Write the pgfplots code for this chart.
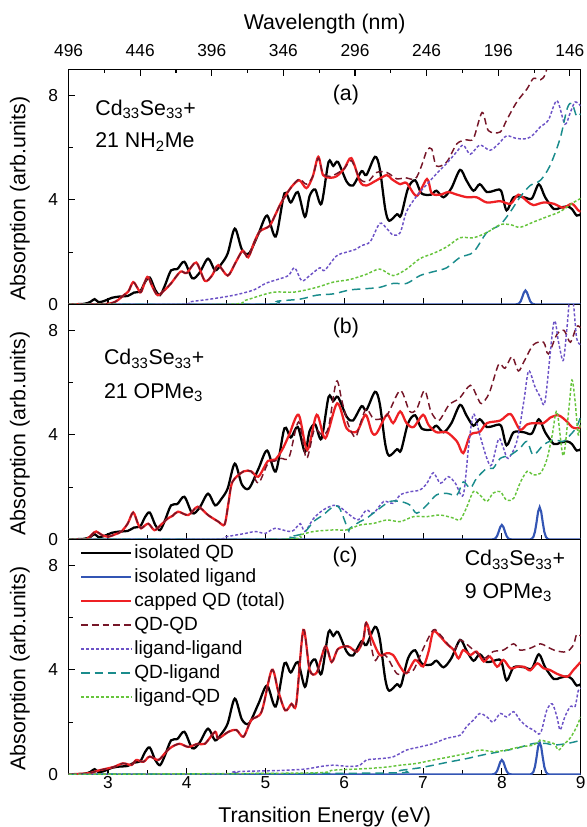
\documentclass[border=0pt]{standalone}
\usepackage{fontspec}
\setmainfont{Liberation Sans}
\usepackage{pgfplots}
\usepackage{pgfplotstable}
\pgfplotsset{compat=1.18}

\definecolor{cLig}{RGB}{51,85,180}
\definecolor{cCap}{RGB}{238,32,36}
\definecolor{cQQ}{RGB}{118,22,40}
\definecolor{cLL}{RGB}{108,82,198}
\definecolor{cQL}{RGB}{26,140,140}
\definecolor{cLQ}{RGB}{102,196,60}

% isolated QD spectrum (same in all panels)
\pgfplotstableread{
E v
2.5 0
2.7 0.02
2.78 0.1
2.83 0.2
2.88 0.08
2.92 0.1
2.97 0.15
3.05 0.25
3.15 0.3
3.25 0.32
3.33 0.45
3.41 0.5
3.47 0.85
3.53 1.03
3.6 0.55
3.66 0.35
3.72 0.7
3.8 1.3
3.88 1.35
3.97 1.63
4.07 1.0
4.16 1.2
4.27 1.75
4.36 1.3
4.44 1.55
4.52 1.95
4.61 2.9
4.7 2.1
4.79 1.95
4.91 2.7
5.02 3.4
5.13 2.6
5.24 4.25
5.32 3.9
5.41 4.3
5.5 3.35
5.56 4.15
5.63 4.4
5.71 3.85
5.8 5.45
5.86 5.3
5.92 5.45
6.03 4.7
6.11 4.55
6.22 5.1
6.28 4.95
6.39 5.65
6.45 5.2
6.52 3.65
6.57 3.2
6.67 3.45
6.72 3.4
6.81 4.45
6.9 4.75
6.98 4.25
7.1 4.2
7.17 4.35
7.26 4.1
7.36 4.45
7.47 5.15
7.55 4.75
7.64 4.35
7.72 4.6
7.81 4.3
7.9 4.35
7.99 4.35
8.06 3.6
8.15 4.1
8.28 4.1
8.38 4.05
8.47 4.6
8.55 4.1
8.66 3.65
8.74 3.7
8.83 3.75
8.89 3.65
8.95 3.4
9.0 3.45
}\isoQD

% isolated OPMe3 ligand
\pgfplotstableread{
E v
2.5 0
7.88 0
7.9 0.01
7.92 0.04
7.94 0.13
7.96 0.29
7.98 0.47
8.0 0.55
8.02 0.47
8.04 0.29
8.06 0.13
8.08 0.04
8.1 0.01
8.12 0
8.36 0
8.38 0.02
8.4 0.09
8.42 0.28
8.44 0.64
8.46 1.05
8.48 1.23
8.5 1.05
8.52 0.64
8.54 0.28
8.56 0.09
8.58 0.02
8.6 0
9.0 0
}\ligOP

\pgfplotsset{
  panel/.style={
    width=384pt, height=176.25pt, scale only axis,
    xmin=2.5, xmax=9, ymin=0, ymax=9,
    xtick={3,...,9}, minor x tick num=1,
    ytick={0,4,8}, minor ytick={2,6},
    xtick pos=bottom, ytick pos=left,
    tick align=inside,
    major tick length=5pt, minor tick length=3pt,
    tick style={line width=0.8pt, black},
    axis line style={line width=0.8pt},
    /pgf/number format/assume math mode=true,
    tick label style={font=\fontsize{13}{15}\selectfont},
    yticklabel style={xshift=-4.4pt},
    ylabel={Absorption (arb.units)},
    every axis y label/.style={at={(axis description cs:-0.095,0.45)},
      rotate=90, anchor=center, font=\fontsize{16}{19}\selectfont},
  },
  qd/.style={black, line width=1.7pt, smooth},
  lig/.style={cLig, line width=1.6pt},
  cap/.style={cCap, line width=1.7pt, smooth},
  qq/.style={cQQ, line width=1.1pt, dash pattern=on 5pt off 3pt, smooth},
  ll/.style={cLL, line width=1.1pt, dash pattern=on 2.2pt off 1.5pt, smooth},
  ql/.style={cQL, line width=1.1pt, dash pattern=on 6.25pt off 3.75pt, smooth},
  lq/.style={cLQ, line width=1.1pt, dash pattern=on 2.2pt off 1.5pt, smooth},
}

\begin{document}
\begin{tikzpicture}

% ---------- (a) ----------
\begin{axis}[panel, at={(0,352.5pt)}, anchor=south west, xticklabels={}]
\addplot[qd] table[x=E,y=v]{\isoQD};
\addplot[lig] coordinates {(2.5,0) (8.18,0) (8.2,0.01) (8.22,0.04) (8.24,0.12) (8.26,0.28)
 (8.28,0.45) (8.3,0.53) (8.32,0.45) (8.34,0.28) (8.36,0.12) (8.38,0.04) (8.4,0.01) (8.42,0) (9,0)};
\addplot[cap] coordinates {
 (2.5,0) (2.9,0) (3.05,0.05) (3.12,0.15) (3.2,0.35) (3.26,0.5) (3.32,0.85) (3.38,0.6)
 (3.42,0.47) (3.5,1.05) (3.56,0.7) (3.63,0.35) (3.72,0.55) (3.8,0.8) (3.92,1.25) (4.0,1.2)
 (4.12,1.6) (4.23,0.9) (4.32,1.1) (4.4,1.5) (4.52,1.1) (4.62,1.6) (4.71,2.05) (4.78,1.8)
 (4.86,2.4) (4.93,2.8) (5.05,3.0) (5.12,3.4) (5.2,3.9) (5.33,4.5) (5.43,4.75) (5.52,4.45)
 (5.6,4.9) (5.67,5.65) (5.73,4.95) (5.82,4.85) (5.9,4.9) (6.0,5.2) (6.09,5.6) (6.2,4.7)
 (6.28,4.55) (6.41,4.75) (6.54,4.95) (6.6,4.8) (6.71,4.6) (6.79,4.65) (6.92,4.15) (7.05,4.8)
 (7.11,4.25) (7.22,4.2) (7.32,4.3) (7.43,4.2) (7.56,4.1) (7.68,4.1) (7.81,3.9) (7.98,3.95)
 (8.11,3.85) (8.21,4.2) (8.32,3.95) (8.4,3.8) (8.53,3.9) (8.66,3.85) (8.78,3.7) (8.89,3.85)
 (8.97,3.6) (9.0,3.55)};
\addplot[qq] coordinates {
 (2.5,0) (2.9,0) (3.05,0.05) (3.12,0.15) (3.2,0.35) (3.26,0.5) (3.32,0.85) (3.38,0.6)
 (3.42,0.47) (3.5,1.05) (3.56,0.7) (3.63,0.35) (3.72,0.55) (3.8,0.8) (3.92,1.25) (4.0,1.2)
 (4.12,1.6) (4.23,0.9) (4.32,1.1) (4.4,1.5) (4.52,1.1) (4.62,1.6) (4.71,2.05) (4.78,1.8)
 (4.86,2.4) (4.93,2.8) (5.05,3.0) (5.12,3.4) (5.2,3.9) (5.33,4.5) (5.43,4.8) (5.52,4.6)
 (5.6,4.9) (5.67,5.6) (5.73,5.0) (5.82,4.9) (5.9,5.0) (6.0,5.2) (6.09,5.5) (6.2,4.8)
 (6.3,4.7) (6.41,5.05) (6.54,5.05) (6.67,4.8) (6.77,4.85) (6.9,4.8) (6.98,5.3) (7.05,5.9)
 (7.11,5.95) (7.17,5.3) (7.3,5.45) (7.43,6.15) (7.55,6.3) (7.64,6.35) (7.75,7.35) (7.83,6.65)
 (7.98,6.6) (8.06,7.05) (8.19,7.75) (8.32,8.25) (8.4,8.65) (8.49,8.6) (8.55,8.8) (8.62,9.5)
 (8.8,10) (9.0,10)};
\addplot[ll] coordinates {
 (2.5,0) (3.9,0) (4.05,0.1) (4.3,0.2) (4.6,0.35) (4.85,0.55) (5.0,0.8) (5.15,0.95)
 (5.29,1.1) (5.37,1.4) (5.46,0.9) (5.56,1.1) (5.69,1.4) (5.75,1.3) (5.9,1.85) (6.03,2.0)
 (6.14,2.1) (6.22,2.25) (6.33,2.4) (6.45,3.1) (6.54,2.9) (6.62,2.65) (6.71,2.75) (6.79,3.55)
 (6.92,4.15) (7.05,4.6) (7.17,5.0) (7.3,5.4) (7.43,5.85) (7.51,6.1) (7.6,5.75) (7.72,6.1)
 (7.85,5.9) (7.96,6.15) (8.06,6.45) (8.19,6.35) (8.32,6.35) (8.4,6.5) (8.49,6.8) (8.59,7.05)
 (8.7,7.8) (8.8,6.9) (8.87,7.35) (8.93,7.75) (9.0,7.6)};
\addplot[ql] coordinates {
 (2.5,0) (5.0,0) (5.15,0.12) (5.44,0.2) (5.65,0.35) (5.86,0.4) (6.07,0.55) (6.28,0.6)
 (6.45,0.65) (6.62,0.8) (6.79,0.8) (6.96,1.1) (7.13,1.25) (7.3,1.4) (7.47,1.8) (7.64,2.0)
 (7.81,2.75) (7.98,3.05) (8.11,3.55) (8.23,4.1) (8.36,4.55) (8.49,4.75) (8.61,5.3) (8.74,6.35)
 (8.83,7.5) (8.89,7.7) (8.95,7.2) (9.0,7.3)};
\addplot[lq] coordinates {
 (2.5,0) (4.5,0) (4.74,0.15) (4.95,0.35) (5.12,0.47) (5.37,0.47) (5.65,0.65) (5.86,0.85)
 (6.07,0.95) (6.28,1.15) (6.45,1.35) (6.62,1.1) (6.79,1.35) (6.96,1.75) (7.13,1.95) (7.3,2.2)
 (7.47,2.55) (7.64,2.55) (7.81,2.75) (7.98,3.05) (8.11,3.05) (8.23,2.95) (8.4,3.15) (8.57,3.35)
 (8.74,3.55) (8.91,3.9) (9.0,4.05)};
\node[anchor=base west, font=\fontsize{16}{19}\selectfont] at (axis cs:2.78,7.24) {Cd\textsubscript{33}Se\textsubscript{33}+};
\node[anchor=base west, font=\fontsize{16}{19}\selectfont] at (axis cs:2.78,6.0) {21 NH\textsubscript{2}Me};
\node[font=\fontsize{16}{19}\selectfont] at (axis cs:6.02,8.0) {(a)};
\end{axis}

% wavelength axis on top of (a)
\begin{axis}[at={(0,352.5pt)}, anchor=south west,
  width=384pt, height=176.25pt, scale only axis,
  xmin=138.5, xmax=496, x dir=reverse, ymin=0, ymax=1,
  axis x line*=top, axis y line=none,
  xtick={146,196,...,496}, minor x tick num=1,
  tick align=inside, major tick length=5pt, minor tick length=3pt,
  tick style={line width=0.8pt, black},
  axis line style={line width=0.8pt},
  /pgf/number format/assume math mode=true,
  tick label style={font=\fontsize{13}{15}\selectfont},
  xticklabel style={yshift=6pt},
  xlabel={Wavelength (nm)},
  every axis x label/.style={at={(axis description cs:0.5,1)}, anchor=center,
    yshift=33.75pt, font=\fontsize{16}{19}\selectfont}]
\addplot[draw=none] coordinates {(300,0.5)};
\end{axis}

% ---------- (b) ----------
\begin{axis}[panel, at={(0,176.25pt)}, anchor=south west, xticklabels={}]
\addplot[qd] table[x=E,y=v]{\isoQD};
\addplot[lig] table[x=E,y=v]{\ligOP};
\addplot[cap] coordinates {
 (2.5,0) (2.72,0) (2.8,0.2) (2.85,0.3) (2.92,0.17) (3.0,0.1) (3.1,0.2) (3.17,0.3)
 (3.25,0.6) (3.32,1.03) (3.38,0.6) (3.42,0.42) (3.51,0.6) (3.59,0.35) (3.67,0.55) (3.76,0.8)
 (3.82,0.9) (3.89,1.06) (4.02,0.93) (4.14,1.25) (4.27,0.93) (4.4,0.68) (4.48,0.57) (4.53,1.4)
 (4.58,2.2) (4.72,2.6) (4.82,2.6) (4.91,2.4) (5.03,3.0) (5.12,3.05) (5.21,3.42) (5.3,4.0)
 (5.42,4.77) (5.53,3.42) (5.65,4.77) (5.76,3.87) (5.91,5.21) (6.03,4.25) (6.16,4.13) (6.27,4.77)
 (6.35,4.1) (6.41,4.06) (6.54,4.77) (6.62,4.45) (6.71,4.9) (6.79,4.45) (6.88,4.3) (7.0,4.77)
 (7.07,4.38) (7.17,4.1) (7.3,4.1) (7.43,3.75) (7.51,3.3) (7.6,4.0) (7.72,4.12) (7.81,4.45)
 (7.98,4.55) (8.11,4.8) (8.23,4.2) (8.32,4.4) (8.4,4.45) (8.53,4.45) (8.61,4.65) (8.72,4.75)
 (8.83,4.5) (8.89,4.3) (8.95,4.25) (9.0,4.3)};
\addplot[qq] coordinates {
 (2.5,0) (2.72,0) (2.8,0.2) (2.85,0.3) (2.92,0.17) (3.0,0.1) (3.1,0.2) (3.17,0.3)
 (3.25,0.6) (3.32,1.03) (3.38,0.6) (3.42,0.42) (3.51,0.6) (3.59,0.35) (3.67,0.55) (3.76,0.8)
 (3.82,0.9) (3.89,1.06) (4.02,0.93) (4.14,1.25) (4.27,0.93) (4.4,0.68) (4.48,0.57) (4.53,1.4)
 (4.58,2.2) (4.72,2.6) (4.82,2.6) (4.91,2.15) (5.03,2.9) (5.12,3.0) (5.2,3.1) (5.3,3.15)
 (5.42,4.5) (5.52,3.1) (5.62,4.2) (5.72,4.0) (5.8,4.3) (5.9,6.05) (5.97,5.3) (6.05,4.4)
 (6.14,3.9) (6.2,4.4) (6.28,5.0) (6.38,4.6) (6.54,4.75) (6.71,5.7) (6.83,4.9) (6.92,5.0)
 (7.02,5.7) (7.1,4.9) (7.2,4.55) (7.33,5.15) (7.46,5.4) (7.6,5.9) (7.68,5.5) (7.74,5.2)
 (7.84,5.6) (7.96,6.7) (8.04,6.55) (8.13,7.0) (8.21,6.45) (8.28,6.8) (8.4,7.45) (8.53,7.55)
 (8.59,7.1) (8.7,7.85) (8.79,8.0) (8.87,7.55) (8.95,8.15) (9.0,8.1)};
\addplot[ll] coordinates {
 (2.5,0) (4.3,0) (4.5,0.1) (4.75,0.23) (4.87,0.3) (5.0,0.23) (5.12,0.42) (5.33,0.3)
 (5.44,0.6) (5.5,0.3) (5.61,0.8) (5.73,1.12) (5.86,1.3) (5.94,1.25) (6.07,0.93) (6.18,0.75)
 (6.28,1.12) (6.37,1.0) (6.5,1.45) (6.62,1.38) (6.71,1.7) (6.83,1.82) (6.96,1.89) (7.05,2.15)
 (7.13,2.55) (7.22,2.15) (7.32,2.4) (7.41,2.15) (7.51,1.7) (7.58,3.6) (7.64,4.8) (7.72,4.0)
 (7.81,3.1) (7.87,2.85) (7.96,3.85) (8.02,3.5) (8.08,3.1) (8.19,3.75) (8.28,5.3) (8.34,6.45)
 (8.42,5.85) (8.49,5.45) (8.55,5.3) (8.66,8.3) (8.72,7.55) (8.78,6.85) (8.83,8.2) (8.87,9.5)
 (8.91,9.0) (8.95,7.7) (9.0,7.45)};
\addplot[ql] coordinates {
 (2.5,0) (5.2,0) (5.3,0.1) (5.48,0.23) (5.61,0.68) (5.73,0.93) (5.86,1.25) (5.94,1.19)
 (6.05,0.36) (6.07,0.42) (6.2,0.68) (6.28,0.8) (6.45,1.19) (6.58,1.45) (6.71,1.45) (6.83,1.32)
 (6.92,1.0) (7.05,1.32) (7.17,1.7) (7.3,1.76) (7.43,1.7) (7.51,2.2) (7.6,1.96) (7.68,2.34)
 (7.81,2.72) (7.89,2.72) (7.98,3.1) (8.11,3.23) (8.23,3.49) (8.32,3.75) (8.4,3.23) (8.53,3.62)
 (8.66,3.81) (8.78,3.75) (8.87,4.0) (8.95,4.3) (9.0,4.7)};
\addplot[lq] coordinates {
 (2.5,0) (5.2,0) (5.44,0.17) (5.61,0.3) (5.86,0.36) (6.03,0.36) (6.2,0.55) (6.37,0.61)
 (6.54,0.74) (6.71,0.68) (6.88,0.87) (7.05,0.87) (7.22,0.93) (7.39,0.81) (7.47,0.74) (7.55,1.2)
 (7.64,1.83) (7.72,1.7) (7.81,1.45) (7.89,1.77) (7.98,1.83) (8.06,1.5) (8.15,1.57) (8.23,2.15)
 (8.32,2.6) (8.4,2.47) (8.49,2.53) (8.57,3.04) (8.64,4.0) (8.7,4.9) (8.78,3.2) (8.85,4.96)
 (8.89,6.1) (8.93,5.3) (8.97,4.0) (9.0,4.6)};
\node[anchor=base west, font=\fontsize{16}{19}\selectfont] at (axis cs:2.89,6.68) {Cd\textsubscript{33}Se\textsubscript{33}+};
\node[anchor=base west, font=\fontsize{16}{19}\selectfont] at (axis cs:2.89,5.4) {21 OPMe\textsubscript{3}};
\node[font=\fontsize{16}{19}\selectfont] at (axis cs:6.02,8.09) {(b)};
\end{axis}

% ---------- (c) ----------
\begin{axis}[panel, at={(0,0)}, anchor=south west,
  xlabel={Transition Energy (eV)},
  xticklabel style={yshift=2pt},
  every axis x label/.style={at={(axis description cs:0.5,0)}, anchor=center,
    yshift=-32pt, font=\fontsize{16}{19}\selectfont},
  legend style={draw=none, fill=none, inner sep=0pt,
    at={(axis description cs:0.022,0.989)}, anchor=north west,
    font=\fontsize{14.3}{16}\selectfont, row sep=1.5pt,
    nodes={inner sep=1.5pt, text height=10.5pt, text depth=3pt}},
  legend cell align=left,
  legend image code/.code={\draw[#1] (0pt,0pt) -- (37.5pt,0pt);}]
\addplot[qd] table[x=E,y=v]{\isoQD};
\addlegendentry{isolated QD}
\addplot[lig] table[x=E,y=v]{\ligOP};
\addlegendentry{isolated ligand}
\addplot[cap] coordinates {
 (2.5,0) (2.75,0.04) (2.87,0.14) (3.0,0.23) (3.08,0.29) (3.19,0.42) (3.3,0.36) (3.36,0.55)
 (3.45,0.48) (3.53,0.68) (3.64,0.55) (3.74,0.87) (3.81,1.05) (3.91,1.17) (4.02,1.05) (4.14,1.17)
 (4.23,1.17) (4.36,1.63) (4.4,1.38) (4.53,1.63) (4.63,1.7) (4.72,1.44) (4.82,2.08) (4.95,2.4)
 (5.08,4.0) (5.16,3.2) (5.25,2.45) (5.33,2.7) (5.39,2.7) (5.48,5.53) (5.56,4.0) (5.65,3.9)
 (5.76,4.9) (5.84,4.3) (5.92,4.8) (6.05,4.9) (6.16,4.7) (6.24,5.15) (6.28,5.8) (6.35,5.2)
 (6.45,4.57) (6.54,4.64) (6.62,4.57) (6.71,4.12) (6.79,3.87) (6.9,4.38) (7.0,4.13) (7.07,4.7)
 (7.13,5.47) (7.22,5.27) (7.3,5.0) (7.39,4.76) (7.45,4.44) (7.51,4.76) (7.6,4.57) (7.68,4.7)
 (7.77,4.32) (7.85,4.51) (7.94,4.12) (8.02,4.38) (8.11,4.05) (8.19,4.12) (8.28,4.12) (8.36,3.98)
 (8.45,4.25) (8.53,4.06) (8.61,4.0) (8.7,3.85) (8.83,3.74) (8.91,4.0) (9.0,4.3)};
\addlegendentry{capped QD (total)}
\addplot[qq] coordinates {
 (2.5,0) (2.75,0.04) (2.87,0.14) (3.0,0.23) (3.08,0.29) (3.19,0.42) (3.3,0.36) (3.36,0.55)
 (3.45,0.48) (3.53,0.68) (3.64,0.55) (3.74,0.87) (3.81,1.05) (3.91,1.17) (4.02,1.05) (4.14,1.17)
 (4.23,1.17) (4.36,1.63) (4.4,1.38) (4.53,1.63) (4.63,1.7) (4.72,1.44) (4.82,2.08) (4.95,2.4)
 (5.08,4.0) (5.16,3.2) (5.25,2.45) (5.33,2.7) (5.39,2.7) (5.48,5.53) (5.56,4.0) (5.65,3.9)
 (5.76,4.9) (5.84,4.3) (5.92,4.8) (6.05,4.9) (6.16,4.7) (6.24,5.15) (6.28,5.8) (6.38,4.4)
 (6.45,4.6) (6.54,4.5) (6.67,3.85) (6.79,3.9) (6.88,4.0) (7.0,4.8) (7.13,5.53) (7.22,5.34)
 (7.39,4.76) (7.47,5.15) (7.64,4.76) (7.77,4.44) (7.89,4.7) (8.02,4.76) (8.15,5.0) (8.23,4.76)
 (8.36,4.83) (8.49,5.0) (8.57,4.89) (8.66,4.76) (8.74,4.7) (8.83,4.7) (8.91,4.96) (8.95,5.36)
 (9.0,5.3)};
\addlegendentry{QD-QD}
\addplot[ll] coordinates {
 (2.5,0) (4.5,0.02) (4.6,0.1) (5.2,0.15) (5.5,0.2) (5.7,0.3) (5.86,0.35) (6.07,0.3)
 (6.2,0.35) (6.28,0.55) (6.45,0.6) (6.62,0.67) (6.79,0.93) (6.96,1.05) (7.13,1.18) (7.3,1.38)
 (7.47,1.5) (7.55,1.82) (7.64,2.08) (7.72,2.33) (7.81,2.2) (7.89,2.0) (7.98,2.33) (8.06,2.2)
 (8.15,2.4) (8.23,2.08) (8.32,1.83) (8.4,1.7) (8.49,1.57) (8.57,2.45) (8.64,2.7) (8.7,2.2)
 (8.74,1.7) (8.8,2.2) (8.87,2.6) (8.93,2.6) (8.97,3.2) (9.0,3.3)};
\addlegendentry{ligand-ligand}
\addplot[ql] coordinates {
 (2.5,0) (6.5,0.05) (6.71,0.15) (6.96,0.25) (7.13,0.35) (7.34,0.48) (7.55,0.6) (7.77,0.75)
 (7.98,0.87) (8.19,1.0) (8.4,1.18) (8.57,1.18) (8.66,1.12) (8.83,1.18) (9.0,1.3)};
\addlegendentry{QD-ligand}
\addplot[lq] coordinates {
 (2.5,0) (5.5,0.05) (5.86,0.16) (6.28,0.22) (6.54,0.28) (6.71,0.35) (6.92,0.42) (7.13,0.55)
 (7.34,0.67) (7.55,0.8) (7.72,0.93) (7.89,0.87) (8.06,0.93) (8.23,1.05) (8.4,1.12) (8.49,1.3)
 (8.57,1.25) (8.66,1.18) (8.72,0.93) (8.78,1.12) (8.87,1.4) (8.95,1.82) (9.0,2.2)};
\addlegendentry{ligand-QD}
\node[anchor=base west, font=\fontsize{16}{19}\selectfont] at (axis cs:7.47,7.98) {Cd\textsubscript{33}Se\textsubscript{33}+};
\node[anchor=base west, font=\fontsize{16}{19}\selectfont] at (axis cs:7.47,6.74) {9 OPMe\textsubscript{3}};
\node[font=\fontsize{16}{19}\selectfont] at (axis cs:6.01,8.34) {(c)};
\end{axis}

\pgfresetboundingbox
\path (-51.45pt,-39.5pt) rectangle (388.05pt,580.75pt);
\end{tikzpicture}
\end{document}
